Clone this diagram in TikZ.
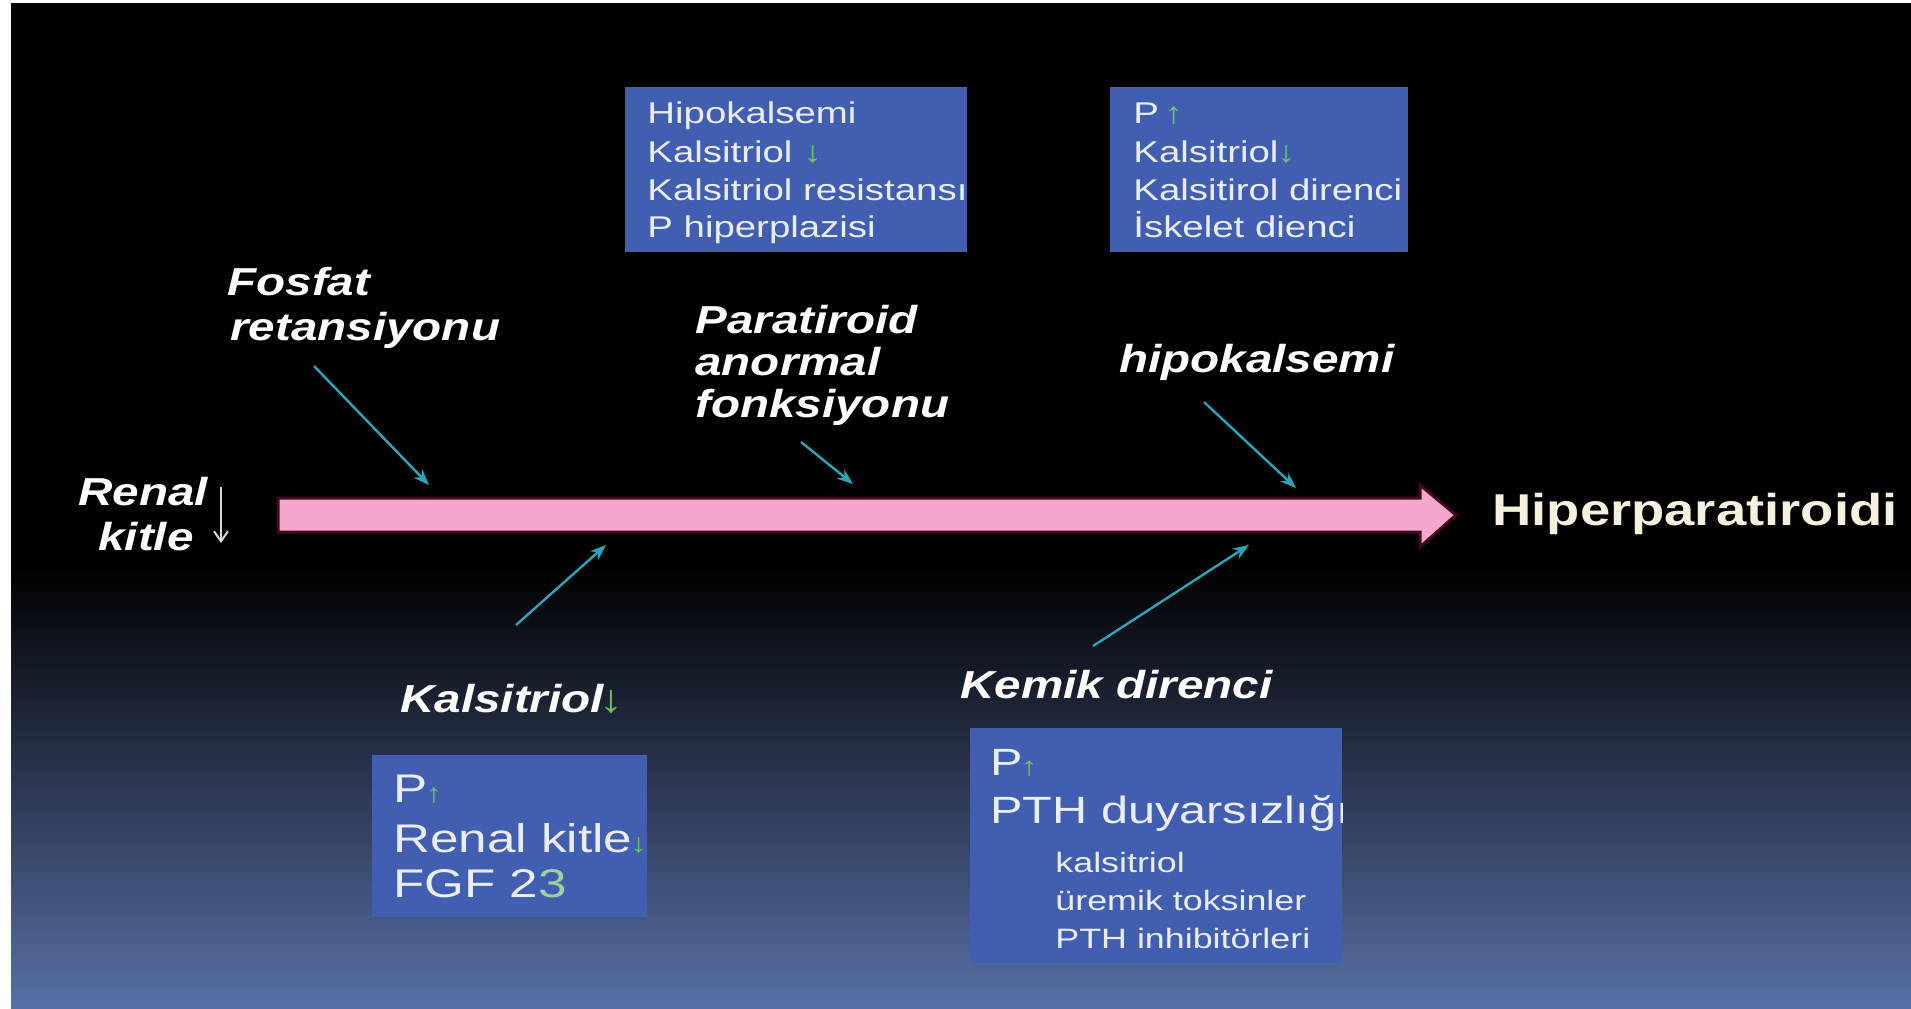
\documentclass[tikz,border=0pt]{standalone}
\usepackage{fontspec}
\setmainfont[FakeStretch=1.28]{Liberation Sans}
\newfontfamily\labfont[FakeStretch=1.22]{Liberation Sans}
\newfontfamily\resfont[FakeStretch=1.22]{Liberation Sans}
\usetikzlibrary{arrows.meta}
\definecolor{boxblue}{RGB}{66,94,176}
\definecolor{boxtext}{RGB}{234,238,250}
\definecolor{grn}{RGB}{105,195,95}
\definecolor{myteal}{RGB}{45,165,185}
\definecolor{pinkar}{RGB}{244,166,204}
\definecolor{glow}{RGB}{70,8,28}
\definecolor{cream}{RGB}{246,241,222}
\definecolor{bgblue}{RGB}{88,112,165}
\tikzset{
  bluebox/.style={fill=boxblue, draw=none, inner sep=0pt},
  boxline/.style={anchor=base west, inner sep=0pt, text=boxtext, font=\fontsize{15}{17}\selectfont},
  bigline/.style={anchor=base west, inner sep=0pt, text=boxtext, font=\fontsize{20}{24}\selectfont},
  midline/.style={anchor=base west, inner sep=0pt, text=boxtext, font=\fontsize{19}{23}\selectfont},
  subline/.style={anchor=base west, inner sep=0pt, text=boxtext, font=\fontsize{14}{17}\selectfont},
  lbl/.style={anchor=base west, inner sep=0pt, text=white, font=\labfont\fontsize{19.5}{22}\selectfont\bfseries\itshape},
  cause/.style={draw=myteal, line width=1.2pt, -{Stealth[length=8pt,width=6pt]}},
}
\newcommand{\gup}{{\color{grn}\bfseries ↑}}
\newcommand{\gdown}{{\color{grn}\bfseries ↓}}
\newcommand{\sgup}{{\color{grn}\bfseries\fontsize{13}{13}\selectfont ↑}}
\newcommand{\sgdown}{{\color{grn}\bfseries\fontsize{13}{13}\selectfont ↓}}
\begin{document}
\begin{tikzpicture}[x=0.5pt,y=-0.5pt]
% background
\useasboundingbox (0,0) rectangle (1911,1008);
\fill[white] (0,0) rectangle (1911,1008);
\fill[black] (11,3) rectangle (1911,1008);
\shade[top color=black, bottom color=bgblue] (11,565) rectangle (1911,1008);

% main pink arrow
\draw[glow, line width=1.5pt, fill=pinkar, line join=miter]
  (278,498) -- (1420,498) -- (1420,485) -- (1456,515) -- (1420,547) -- (1420,532) -- (278,532) -- cycle;

% result
\node[anchor=base west, inner sep=0pt, text=cream, font=\resfont\fontsize{22.3}{26}\selectfont\bfseries] (res) at (1492,525) {Hiperparatiroidi};

% Renal kitle
\node[lbl] (ren1) at (78,505) {Renal};
\node[lbl] (ren2) at (98,550) {kitle};
\coordinate (rdA) at (221,487);
\coordinate (rdB) at (221,543);
\draw[white!85!black, line width=1pt, -{Straight Barb[length=5pt,width=7pt]}] (rdA) -- (rdB);

% top box 1
\node[bluebox, minimum width=342*0.5pt, minimum height=165*0.5pt, anchor=north west] (b1) at (625,87) {};
\begin{scope}
\clip (625,87) rectangle (967,252);
\node[boxline] (b1l1) at (647,123) {Hipokalsemi};
\node[boxline] (b1l2) at (647,162) {Kalsitriol \gdown};
\node[boxline] (b1l3) at (647,200) {Kalsitriol resistansı};
\node[boxline] (b1l4) at (647,237) {P hiperplazisi};
\end{scope}

% top box 2
\node[bluebox, minimum width=298*0.5pt, minimum height=165*0.5pt, anchor=north west] (b2) at (1110,87) {};
\node[boxline] (b2l1) at (1133,123) {P\,\gup};
\node[boxline] (b2l2) at (1133,162) {Kalsitriol\kern-1pt\gdown};
\node[boxline] (b2l3) at (1133,200) {Kalsitirol direnci};
\node[boxline] (b2l4) at (1133,237) {İskelet dienci};

% bottom box 3
\node[bluebox, minimum width=275*0.5pt, minimum height=162*0.5pt, anchor=north west] (b3) at (372,755) {};
\node[bigline] (b3l1) at (393,802) {P\kern-1pt\sgup};
\node[bigline] (b3l2) at (393,852) {Renal kitle\kern-1pt\sgdown};
\node[bigline] (b3l3) at (393,897) {FGF 2{\color{grn!60!boxtext}3}};

% bottom box 4
\node[bluebox, minimum width=372*0.5pt, minimum height=235*0.5pt, anchor=north west] (b4) at (970,728) {};
\begin{scope}
\clip (970,728) rectangle (1342,963);
\node[midline] (b4l1) at (990,775) {P\kern-1pt\sgup};
\node[midline] (b4l2) at (990,823) {PTH duyarsızlığı};
\node[subline] (b4l3) at (1055,872) {kalsitriol};
\node[subline] (b4l4) at (1055,910) {üremik toksinler};
\node[subline] (b4l5) at (1055,948) {PTH inhibitörleri};
\end{scope}

% cause labels
\node[lbl] (fos1) at (227,295) {Fosfat};
\node[lbl] (fos2) at (230,340) {retansiyonu};
\node[lbl] (par1) at (695,333) {Paratiroid};
\node[lbl] (par2) at (695,375) {anormal};
\node[lbl] (par3) at (695,417) {fonksiyonu};
\node[lbl] (hip) at (1119,372) {hipokalsemi};
\node[lbl] (kal) at (400,712) {Kalsitriol\kern-2pt{\color{grn}↓}};
\node[lbl] (kem) at (960,698) {Kemik direnci};

% cause arrows
\coordinate (c1s) at (314,366);  \coordinate (c1e) at (429,485);
\coordinate (c2s) at (801,442);  \coordinate (c2e) at (853,484);
\coordinate (c3s) at (1204,402); \coordinate (c3e) at (1296,488);
\coordinate (c4s) at (516,625);  \coordinate (c4e) at (606,545);
\coordinate (c5s) at (1093,646); \coordinate (c5e) at (1249,545);
\draw[cause] (c1s) -- (c1e);
\draw[cause] (c2s) -- (c2e);
\draw[cause] (c3s) -- (c3e);
\draw[cause] (c4s) -- (c4e);
\draw[cause] (c5s) -- (c5e);
\end{tikzpicture}
\end{document}
